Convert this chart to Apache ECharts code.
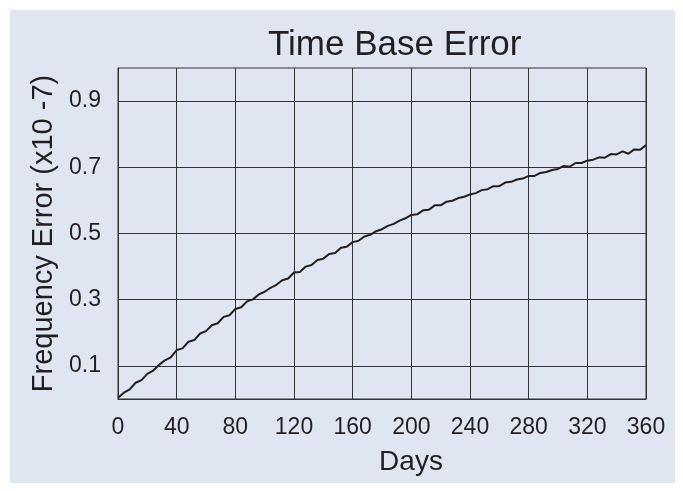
<!DOCTYPE html>
<html>
<head>
<meta charset="utf-8">
<script src="https://cdn.jsdelivr.net/npm/echarts@6/dist/echarts.min.js"></script>
<style>
  html, body { margin: 0; padding: 0; background: #ffffff; }
  #bg { position: absolute; left: 10px; top: 10px; width: 665px; height: 473px; background: #dfe6f1; }
  #chart { position: absolute; left: 0; top: 0; width: 683px; height: 491px; }
</style>
</head>
<body>
<div id="bg"></div>
<div id="chart"></div>
<script>
const titleText = 'Time Base Error';
const xAxisName = 'Days';
const yAxisName = 'Frequency Error (x10 -7)';
const yTickLabels = ['0.1', '0.3', '0.5', '0.7', '0.9'];

const days = [0, 4, 8, 12, 16, 20, 24, 28, 32, 36, 40, 44, 48, 52, 56, 60, 64, 68, 72, 76,
  80, 84, 88, 92, 96, 100, 104, 108, 112, 116, 120, 124, 128, 132, 136, 140, 144, 148, 152, 156,
  160, 164, 168, 172, 176, 180, 184, 188, 192, 196, 200, 204, 208, 212, 216, 220, 224, 228, 232, 236,
  240, 244, 248, 252, 256, 260, 264, 268, 272, 276, 280, 284, 288, 292, 296, 300, 304, 308, 312, 316,
  320, 324, 328, 332, 336, 340, 344, 348, 352, 356, 360];

const freqError = [0.004, 0.019, 0.029, 0.049, 0.057, 0.076, 0.086, 0.103, 0.117, 0.126,
  0.148, 0.153, 0.173, 0.178, 0.198, 0.205, 0.223, 0.229, 0.248, 0.253,
  0.272, 0.277, 0.295, 0.301, 0.316, 0.324, 0.336, 0.345, 0.359, 0.364,
  0.382, 0.384, 0.400, 0.405, 0.420, 0.424, 0.438, 0.441, 0.457, 0.460,
  0.474, 0.478, 0.491, 0.496, 0.507, 0.513, 0.523, 0.529, 0.539, 0.546,
  0.556, 0.558, 0.570, 0.572, 0.585, 0.585, 0.596, 0.599, 0.607, 0.611,
  0.618, 0.622, 0.631, 0.634, 0.643, 0.643, 0.654, 0.656, 0.663, 0.666,
  0.674, 0.674, 0.683, 0.686, 0.692, 0.695, 0.704, 0.702, 0.713, 0.713,
  0.720, 0.723, 0.730, 0.729, 0.740, 0.739, 0.748, 0.741, 0.754, 0.753,
  0.767];

const font = '"Liberation Sans", Arial, Helvetica, sans-serif';
const textColor = '#231f20';
const lineColor = '#333333';

const seriesData = days.map((d, i) => [d, freqError[i]]);

const chart = echarts.init(document.getElementById('chart'), null, { renderer: 'canvas' });
chart.setOption({
  backgroundColor: 'transparent',
  animation: false,
  title: {
    text: titleText,
    left: 263,
    top: 23,
    textStyle: { fontFamily: font, fontSize: 35, fontWeight: 'normal', color: textColor }
  },
  grid: {
    left: 118, right: 37, top: 68, bottom: 92,
    show: true, borderColor: lineColor, borderWidth: 1, backgroundColor: 'transparent'
  },
  xAxis: {
    type: 'value',
    min: 0, max: 360, interval: 40,
    name: xAxisName,
    nameLocation: 'middle',
    nameGap: 49,
    nameTextStyle: { fontFamily: font, fontSize: 28, color: textColor, padding: [0, 0, 0, 58] },
    axisLine: { show: true, lineStyle: { color: lineColor, width: 1 } },
    axisTick: { show: false },
    axisLabel: { fontFamily: font, fontSize: 23, color: textColor, margin: 17 },
    splitLine: { show: true, lineStyle: { color: lineColor, width: 1 } }
  },
  yAxis: {
    type: 'value',
    min: 0, max: 1, interval: 0.1,
    name: yAxisName,
    nameLocation: 'middle',
    nameGap: 60,
    nameTextStyle: { fontFamily: font, fontSize: 29, color: textColor },
    axisLine: { show: true, lineStyle: { color: lineColor, width: 1 } },
    axisTick: { show: false },
    axisLabel: {
      fontFamily: font, fontSize: 23, color: textColor, margin: 17,
      formatter: function (v) {
        const s = v.toFixed(1);
        return yTickLabels.indexOf(s) >= 0 ? s : '';
      }
    },
    splitLine: { show: true, lineStyle: { color: ['rgba(0,0,0,0)', lineColor], width: 1 } }
  },
  series: [{
    type: 'line',
    data: seriesData,
    showSymbol: false,
    smooth: false,
    lineStyle: { color: '#231f20', width: 2 },
    z: 5
  }]
});
</script>
</body>
</html>
